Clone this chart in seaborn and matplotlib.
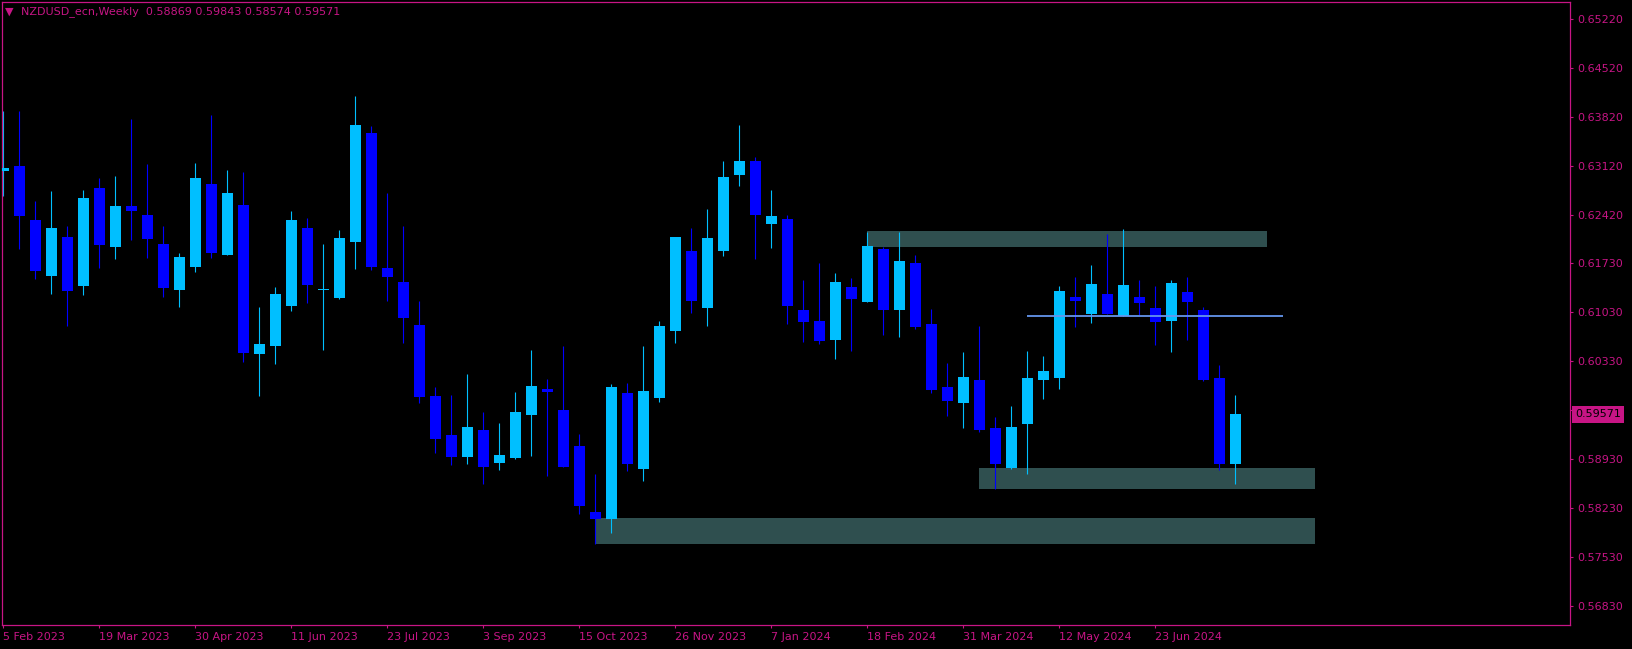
import numpy as np
import pandas as pd
import matplotlib
matplotlib.use("Agg")
import matplotlib.pyplot as plt
from matplotlib.patches import Rectangle
import seaborn as sns


symbol = "NZDUSD_ecn,Weekly"

# weekly candles, week 0 = 5 Feb 2023
opens = [0.63053, 0.63120, 0.62349, 0.61553, 0.62106, 0.61411, 0.62806, 0.61968, 0.62549, 0.62420,
         0.62006, 0.61353, 0.61682, 0.62863, 0.61853, 0.62563, 0.60439, 0.60553, 0.61125, 0.62234,
         0.61349, 0.61239, 0.62039, 0.63591, 0.61663, 0.61463, 0.60849, 0.59834, 0.59277, 0.58968,
         0.59349, 0.58882, 0.58953, 0.59568, 0.59934, 0.59634, 0.59120, 0.58177, 0.58082, 0.59877,
         0.58796, 0.59810, 0.60768, 0.61906, 0.61096, 0.61910, 0.62996, 0.63191, 0.62296, 0.62363,
         0.61063, 0.60906, 0.60639, 0.61391, 0.61182, 0.61934, 0.61068, 0.61734, 0.60863, 0.59963,
         0.59739, 0.60063, 0.59377, 0.58811, 0.59439, 0.60068, 0.60096, 0.61249, 0.61011, 0.61292,
         0.60982, 0.61249, 0.61092, 0.60911, 0.61320, 0.61063, 0.60092, 0.58869]
highs = [0.63906, 0.63906, 0.62620, 0.62763, 0.62268, 0.62777, 0.62953, 0.62977, 0.63791, 0.63153,
         0.62268, 0.61877, 0.63163, 0.63849, 0.63063, 0.63034, 0.61106, 0.61391, 0.62477, 0.62382,
         0.62011, 0.62206, 0.64125, 0.63691, 0.62734, 0.62268, 0.61191, 0.59963, 0.59849, 0.60153,
         0.59606, 0.59449, 0.59891, 0.60491, 0.60077, 0.60549, 0.59291, 0.58720, 0.60006, 0.60020,
         0.60549, 0.60906, 0.62106, 0.62234, 0.62506, 0.63191, 0.63706, 0.63249, 0.62777, 0.62420,
         0.61491, 0.61734, 0.61591, 0.61520, 0.62177, 0.61963, 0.62177, 0.61849, 0.61077, 0.60306,
         0.60463, 0.60839, 0.59534, 0.59692, 0.60477, 0.60406, 0.61406, 0.61534, 0.61706, 0.62149,
         0.62220, 0.61491, 0.61406, 0.61491, 0.61534, 0.61106, 0.60277, 0.59843]
lows = [0.62696, 0.61939, 0.61506, 0.61296, 0.60839, 0.61282, 0.61668, 0.61796, 0.62068, 0.61810,
        0.61253, 0.61110, 0.61610, 0.61810, 0.61853, 0.60325, 0.59839, 0.60296, 0.61053, 0.61168,
        0.60496, 0.61225, 0.61653, 0.61639, 0.61196, 0.60596, 0.59739, 0.59025, 0.58853, 0.58868,
        0.58582, 0.58782, 0.58939, 0.58982, 0.58696, 0.58825, 0.58153, 0.57725, 0.57882, 0.58768,
        0.58625, 0.59753, 0.60596, 0.61025, 0.60839, 0.61839, 0.62839, 0.61796, 0.61953, 0.60868,
        0.60610, 0.60582, 0.60368, 0.60482, 0.61182, 0.60711, 0.60682, 0.60796, 0.59882, 0.59553,
        0.59382, 0.59325, 0.58511, 0.58796, 0.58725, 0.59796, 0.59939, 0.60825, 0.60882, 0.61011,
        0.60982, 0.60996, 0.60568, 0.60468, 0.60639, 0.60053, 0.58782, 0.58574]
closes = [0.63091, 0.62411, 0.61620, 0.62234, 0.61339, 0.62663, 0.61996, 0.62549, 0.62477, 0.62077,
          0.61382, 0.61820, 0.62949, 0.61877, 0.62734, 0.60453, 0.60577, 0.61291, 0.62349, 0.61425,
          0.61363, 0.62091, 0.63706, 0.61682, 0.61539, 0.60953, 0.59825, 0.59215, 0.58968, 0.59391,
          0.58825, 0.58991, 0.59606, 0.59977, 0.59896, 0.58825, 0.58268, 0.58082, 0.59963, 0.58868,
          0.59906, 0.60834, 0.62106, 0.61196, 0.62091, 0.62963, 0.63191, 0.62420, 0.62406, 0.61125,
          0.60896, 0.60625, 0.61463, 0.61220, 0.61977, 0.61068, 0.61763, 0.60825, 0.59925, 0.59768,
          0.60106, 0.59353, 0.58868, 0.59392, 0.60092, 0.60192, 0.61334, 0.61192, 0.61434, 0.61011,
          0.61420, 0.61168, 0.60896, 0.61449, 0.61182, 0.60068, 0.58868, 0.59571]

date_ticks = [0, 6, 12, 18, 24, 30, 36, 42, 48, 54, 60, 66, 72]
date_labels = ["5 Feb 2023", "19 Mar 2023", "30 Apr 2023", "11 Jun 2023", "23 Jul 2023",
               "3 Sep 2023", "15 Oct 2023", "26 Nov 2023", "7 Jan 2024", "18 Feb 2024",
               "31 Mar 2024", "12 May 2024", "23 Jun 2024"]

# 0.59630 sits under the current price box, so its label is left blank
price_ticks = [0.65220, 0.64520, 0.63820, 0.63120, 0.62420, 0.61730, 0.61030,
               0.60330, 0.59630, 0.58930, 0.58230, 0.57530, 0.56830]
price_labels = ["0.65220", "0.64520", "0.63820", "0.63120", "0.62420", "0.61730", "0.61030",
                "0.60330", "", "0.58930", "0.58230", "0.57530", "0.56830"]

# supply / demand zones (start week, end week, low, high)
zone_start = [54, 61, 37]
zone_end = [79, 82, 82]
zone_low = [0.61963, 0.58506, 0.57720]
zone_high = [0.62191, 0.58806, 0.58092]

level_price = 0.60977
level_start = 64
level_end = 80

# colours
bg = "black"
fg = "#C71585"
bull = "#00BFFF"
bear = "#0000FF"
zone_color = "#2F4F4F"
level_color = "#6495ED"


df = pd.DataFrame({"week": range(len(opens)), "open": opens, "high": highs,
                   "low": lows, "close": closes})
df["up"] = df["close"] >= df["open"]
df["bottom"] = df[["open", "close"]].min(axis=1)
df["body"] = np.maximum((df["close"] - df["open"]).abs(), 0.00012)

sns.set_theme(style="dark", rc={"axes.facecolor": bg, "figure.facecolor": bg})
plt.rcParams["font.family"] = ["DejaVu Sans"]

W, H = 1633, 649
fig = plt.figure(figsize=(W / 100, H / 100), dpi=100)
ax = fig.add_axes([2 / W, 24 / H, 1568 / W, 623 / H])
ax.set_facecolor(bg)

for s, e, lo, hi in zip(zone_start, zone_end, zone_low, zone_high):
    ax.add_patch(Rectangle((s, lo), e - s, hi - lo, facecolor=zone_color,
                           edgecolor="none", zorder=1))

for up, color in [(True, bull), (False, bear)]:
    part = df[df["up"] == up]
    ax.vlines(part["week"], part["low"], part["high"], color=color, lw=0.8, zorder=2)
    ax.bar(part["week"], part["body"], bottom=part["bottom"], width=0.69,
           color=color, linewidth=0, zorder=3)

ax.hlines(level_price, level_start, level_end, color=level_color, lw=1.3, zorder=4)

ax.set_xlim(-0.08, 97.92)
ax.set_ylim(0.56563, 0.65463)
ax.grid(False)

for sp in ax.spines.values():
    sp.set_color(fg)
    sp.set_linewidth(0.9)
    sp.set_visible(True)

ax.yaxis.tick_right()
ax.set_yticks(price_ticks, price_labels)
ax.tick_params(axis="y", right=True, left=False, length=2, width=0.8, color=fg,
               labelcolor=fg, labelsize=8, pad=3, direction="out")

ax.set_xticks(date_ticks, date_labels, ha="left")
ax.tick_params(axis="x", bottom=True, length=2.5, width=0.8, color=fg,
               labelcolor=fg, labelsize=8, pad=2.5, direction="out")

# current price label
ax.annotate(f"{closes[-1]:.5f}", xy=(1, closes[-1]), xycoords=("axes fraction", "data"),
            xytext=(5, 0), textcoords="offset pixels", ha="left", va="center",
            color="black", fontsize=8, zorder=10, annotation_clip=False,
            bbox=dict(boxstyle="square,pad=0.3", fc=fg, ec="none"))

header = f"{symbol}  {opens[-1]:.5f} {highs[-1]:.5f} {lows[-1]:.5f} {closes[-1]:.5f}"
fig.text(5 / W, 1 - 12 / H, "\u25bc", color=fg, fontsize=8, va="center", ha="left")
fig.text(21 / W, 1 - 12 / H, header, color=fg, fontsize=8, va="center", ha="left")

fig.savefig("out.png", dpi=100, facecolor=bg)
